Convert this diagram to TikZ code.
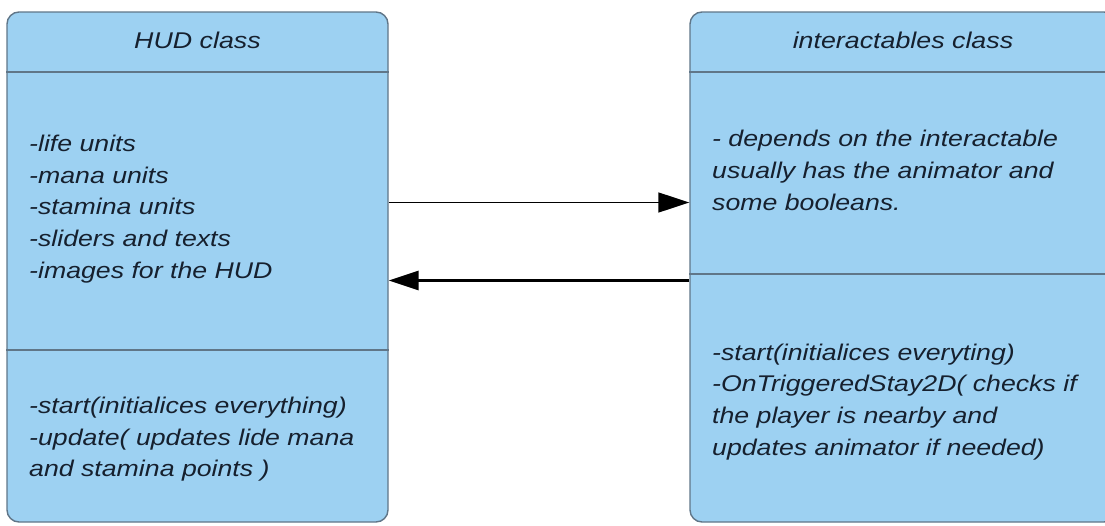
\documentclass[tikz,border=0pt]{standalone}
\usepackage{fontspec}
\usepackage{graphicx}
\setmainfont{Liberation Sans}
\usetikzlibrary{arrows.meta}
\definecolor{boxfill}{RGB}{157,209,242}
\definecolor{boxline}{RGB}{96,118,136}
\definecolor{txtcol}{RGB}{22,32,46}
\tikzset{
  classbox/.style={draw=boxline, fill=boxfill, line width=1.4pt, rounded corners=12pt, inner sep=0pt},
  divider/.style={draw=boxline, line width=1.4pt},
  headtxt/.style={text=txtcol, inner sep=0pt, anchor=base},
  bodytxt/.style={text=txtcol, inner sep=0pt, anchor=base west},
  thinarrow/.style={draw=black, line width=1.5pt, -{Triangle[length=31pt, width=20pt]}},
  thickarrow/.style={draw=black, line width=3.3pt, -{Triangle[length=30pt, width=19pt]}}
}
\newcommand{\headline}[1]{\scalebox{1}[0.85]{\fontsize{26.8}{37.3}\selectfont\itshape #1}}
\newcommand{\lineblock}[1]{\scalebox{1}[0.85]{\fontsize{26.7}{37.3}\selectfont\itshape\begin{tabular}[t]{@{}l@{}}#1\end{tabular}}}
\begin{document}
\begin{tikzpicture}[x=1pt, y=1pt]
\useasboundingbox (0,0) rectangle (1105,-525);
% boxes
\node[classbox, minimum width=381pt, minimum height=510pt] (hud) at (197.5,-267) {};
\node[classbox, minimum width=426pt, minimum height=510pt] (inter) at (903,-267) {};
% dividers
\coordinate (h1) at (0,-72);
\coordinate (h2) at (0,-350);
\coordinate (r2) at (0,-274);
\draw[divider] (hud.west |- h1) -- (hud.east |- h1);
\draw[divider] (hud.west |- h2) -- (hud.east |- h2);
\draw[divider] (inter.west |- h1) -- (inter.east |- h1);
\draw[divider] (inter.west |- r2) -- (inter.east |- r2);
% headers
\node[headtxt] (hudtitle) at (197.5,-48.5) {\headline{HUD class}};
\node[headtxt] (intertitle) at (903,-48.5) {\headline{interactables class}};
% bodies
\node[bodytxt] (hudattr) at (29,-151.5) {\lineblock{-life units\\-mana units\\-stamina units\\-sliders and texts\\-images for the HUD}};
\node[bodytxt] (hudops) at (29,-413.3) {\lineblock{-start(initialices everything)\\-update( updates lide mana\\and stamina points )}};
\node[bodytxt] (interattr) at (712,-146.7) {\lineblock{- depends on the interactable\\usually has the animator and\\some booleans.}};
\node[bodytxt] (interops) at (712,-360) {\lineblock{-start(initialices everyting)\\-OnTriggeredStay2D( checks if\\the player is nearby and\\updates animator if needed)}};
% connectors
\coordinate (a1) at (0,-202.5);
\coordinate (a2) at (0,-280.5);
\draw[thinarrow] (hud.east |- a1) -- (inter.west |- a1);
\draw[thickarrow] (inter.west |- a2) -- (hud.east |- a2);
\end{tikzpicture}
\end{document}
